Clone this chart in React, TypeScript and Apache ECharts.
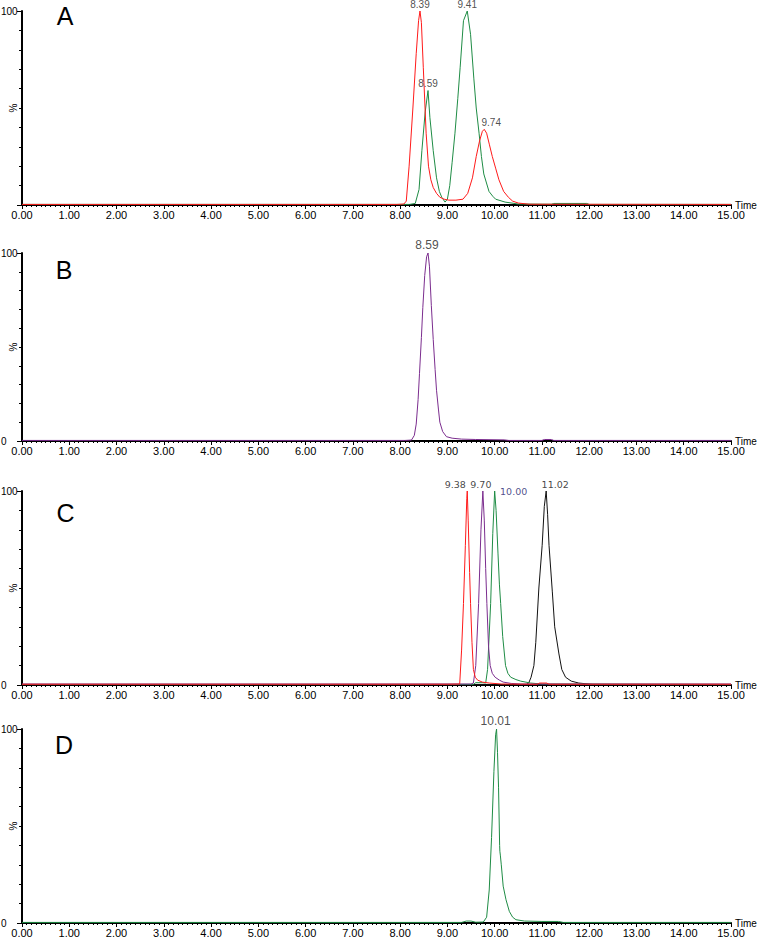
import React, { useEffect, useRef } from "react";
import * as echarts from "echarts";

// ---------- DATA ----------
const panelLetters = ["A", "B", "C", "D"];
const timeRange = [0, 15];
const showZeroLabel = [false, true, true, true];

// Panel A
const redA: number[][] = [
  [0, 0.3], [7.93, 0.3], [8.08, 0.5], [8.13, 2], [8.19, 20], [8.27, 50], [8.34, 78], [8.39, 95], [8.42, 100],
  [8.45, 94], [8.49, 71], [8.55, 37], [8.6, 20], [8.65, 13], [8.7, 9], [8.77, 6], [8.84, 4], [8.93, 3],
  [9.03, 2.5], [9.18, 2.5], [9.33, 3], [9.43, 6], [9.53, 14], [9.61, 25], [9.68, 33], [9.74, 38], [9.78, 39],
  [9.83, 37], [9.89, 31], [9.95, 25], [10.02, 19], [10.09, 13], [10.19, 7], [10.29, 4], [10.38, 2],
  [10.5, 1], [10.73, 0.4], [15, 0.3],
];
const greenA: number[][] = [
  [0, 0.3], [8.2, 0.3], [8.32, 0.8], [8.4, 8], [8.46, 28], [8.53, 48], [8.59, 59], [8.63, 45], [8.7, 28],
  [8.77, 14], [8.83, 7], [8.88, 4], [8.95, 1.5], [9.0, 3], [9.05, 10], [9.1, 22], [9.16, 37], [9.22, 55],
  [9.27, 71], [9.34, 95], [9.42, 100], [9.49, 88], [9.56, 65], [9.61, 50], [9.67, 37], [9.72, 25],
  [9.77, 16], [9.88, 7], [9.96, 4.5], [10.02, 3], [10.22, 1.5], [10.5, 0.5], [11.2, 0.4], [11.25, 0.8],
  [11.95, 0.8], [12.0, 0.3], [15, 0.3],
];
const labelsA = [
  { t: 8.42, v: 100, text: "8.39" },
  { t: 8.59, v: 59, text: "8.59" },
  { t: 9.42, v: 100, text: "9.41" },
  { t: 9.78, v: 39, text: "9.74" },
];

// Panel B
const purpleB: number[][] = [
  [0, 0.3], [8.1, 0.3], [8.24, 0.5], [8.3, 3], [8.34, 9], [8.38, 22], [8.41, 36], [8.45, 55], [8.48, 71],
  [8.52, 88], [8.56, 98], [8.59, 100], [8.62, 93], [8.66, 72], [8.7, 54], [8.74, 38], [8.77, 27],
  [8.81, 17], [8.84, 10], [8.9, 5], [8.98, 2.3], [9.1, 1.5], [9.3, 1], [9.6, 0.8], [10.2, 0.6],
  [10.3, 0.3], [11.0, 0.3], [11.05, 0.8], [11.2, 0.8], [11.25, 0.3], [15, 0.3],
];
const labelsB = [{ t: 8.59, v: 100, text: "8.59" }];

// Panel C
const blackC: number[][] = [
  [0, 0.2], [10.67, 0.3], [10.72, 1], [10.77, 4], [10.83, 10], [10.87, 22], [10.935, 50], [11.005, 72],
  [11.05, 92], [11.09, 100], [11.12, 88], [11.15, 72], [11.22, 48], [11.27, 30], [11.36, 16], [11.42, 8],
  [11.5, 4], [11.62, 2], [11.78, 1], [12.07, 0.3], [15, 0.2],
];
const greenC: number[][] = [
  [0, 0.3], [9.55, 0.3], [9.6, 1.2], [9.75, 1.2], [9.81, 1], [9.85, 8], [9.915, 42], [9.96, 78],
  [10.0, 100], [10.03, 90], [10.07, 68], [10.1, 52], [10.127, 42], [10.17, 25], [10.23, 10], [10.28, 6],
  [10.34, 4], [10.45, 2.8], [10.55, 2], [10.76, 1], [11.0, 0.5], [15, 0.3],
];
const purpleC: number[][] = [
  [0, 0.5], [9.5, 0.5], [9.55, 1], [9.6, 10], [9.66, 42], [9.71, 80], [9.75, 100], [9.78, 85],
  [9.81, 60], [9.835, 42], [9.87, 20], [9.905, 10], [9.95, 6], [10.01, 4], [10.1, 2.5], [10.18, 1.5],
  [10.35, 0.8], [10.55, 0.5], [15, 0.5],
];
const redC: number[][] = [
  [0, 0.4], [9.0, 0.4], [9.26, 0.5], [9.3, 18], [9.34, 42], [9.38, 72], [9.41, 96], [9.42, 100],
  [9.44, 85], [9.47, 58], [9.49, 42], [9.52, 22], [9.55, 8], [9.59, 4], [9.64, 2.5], [9.74, 1.5],
  [9.89, 1], [10.14, 0.5], [10.9, 0.4], [10.95, 1], [11.1, 1], [11.15, 0.4], [15, 0.4],
];
const labelsC = [
  { t: 9.42, v: 100, text: "9.38" },
  { t: 9.75, v: 100, text: "9.70" },
  { t: 10.0, v: 100, text: "10.00" },
  { t: 11.09, v: 100, text: "11.02" },
];

// Panel D
const greenD: number[][] = [
  [0, 0.3], [9.3, 0.3], [9.4, 1], [9.5, 1], [9.6, 0.4], [9.76, 0.5], [9.83, 3], [9.885, 17], [9.934, 44],
  [9.984, 78], [10.02, 97], [10.04, 100], [10.06, 88], [10.082, 70], [10.105, 40], [10.11, 37],
  [10.12, 35], [10.14, 30], [10.18, 19], [10.24, 12], [10.31, 6], [10.38, 3], [10.45, 1.7], [10.63, 1],
  [11.0, 0.8], [11.35, 0.8], [11.45, 0.3], [15, 0.3],
];
const labelsD = [{ t: 10.04, v: 100, text: "10.01" }];

// ---------- STYLE / LAYOUT ----------
const RED = "#ff1a1a";
const GREEN = "#1f8c45";
const PURPLE = "#7b2d8e";
const BLACK = "#111111";

const grids = [
  { left: 22, top: 11, width: 709, height: 194 },
  { left: 22, top: 253, width: 709, height: 188 },
  { left: 22, top: 491, width: 709, height: 194 },
  { left: 22, top: 729, width: 709, height: 194 },
];
const letterPos = [
  [65, 15.5],
  [64, 269.5],
  [65.5, 513],
  [64, 744.5],
];

const labelStyleA = { fontSize: 10, fontFamily: "Liberation Sans", color: "#222" };
const labelStyleB = { fontSize: 12, fontFamily: "Liberation Sans", color: "#222" };
const labelStyleD = { fontSize: 12, fontFamily: "Liberation Sans", color: "#222" };
const labelStylesC = [
  { fontSize: 9.5, fontFamily: "DejaVu Sans", color: "#111" },
  { fontSize: 9.5, fontFamily: "DejaVu Sans", color: "#111" },
  { fontSize: 9.5, fontFamily: "DejaVu Sans", color: "#1c1c6e" },
  { fontSize: 9.5, fontFamily: "DejaVu Sans", color: "#111" },
];
const offsetsA = [[0, 0], [0, 0], [0, 0], [7, 0]];
const offsetsB = [[-1, 0]];
const offsetsC = [[-12, 0], [-2, 0], [19, 7], [9, 0]];
const offsetsD = [[-1, 0]];

function lineSeries(data: number[][], color: string, idx: number) {
  return {
    type: "line",
    xAxisIndex: idx,
    yAxisIndex: idx,
    data,
    showSymbol: false,
    symbol: "none",
    lineStyle: { color, width: 1 },
    silent: true,
    z: 3,
  };
}

function labelSeries(
  labels: { t: number; v: number; text: string }[],
  offsets: number[][],
  style: any,
  idx: number
) {
  return {
    type: "scatter",
    xAxisIndex: idx,
    yAxisIndex: idx,
    symbolSize: 0,
    silent: true,
    z: 5,
    data: labels.map((l, i) => ({
      value: [l.t, l.v],
      label: {
        show: true,
        position: "top",
        distance: 2,
        formatter: l.text,
        offset: offsets[i] || [0, 0],
        ...(Array.isArray(style) ? style[i] : style),
      },
    })),
  };
}

export default function App() {
  const ref = useRef<HTMLDivElement>(null);
  useEffect(() => {
    if (!ref.current) return;
    const chart = echarts.init(ref.current, undefined, { renderer: "svg" });
    const axisFont = { fontFamily: "Liberation Sans", color: "#000" };
    const xAxes = grids.map((_, i) => ({
      type: "value",
      gridIndex: i,
      min: timeRange[0],
      max: timeRange[1],
      interval: 1,
      axisLine: { show: true, lineStyle: { color: "#000", width: 2 } },
      axisTick: { show: true, length: 4, lineStyle: { color: "#000", width: 1 } },
      minorTick: { show: true, splitNumber: 10, length: 2, lineStyle: { color: "#000", width: 1 } },
      splitLine: { show: false },
      axisLabel: {
        ...axisFont,
        fontSize: 11,
        margin: 4,
        hideOverlap: false,
        formatter: (v: number) => v.toFixed(2),
      },
      name: "Time",
      nameLocation: "end",
      nameGap: 4,
      nameMoveOverlap: false,
      nameTextStyle: { ...axisFont, fontSize: 10, verticalAlign: "middle", padding: [0, 0, 5, 0] },
    }));
    const yAxes = grids.map((_, i) => ({
      type: "value",
      gridIndex: i,
      min: 0,
      max: 100,
      interval: 100,
      axisLine: { show: true, lineStyle: { color: "#000", width: 2 } },
      axisTick: { show: true, length: 5, lineStyle: { color: "#000", width: 1 } },
      minorTick: { show: true, splitNumber: 10, length: 3, lineStyle: { color: "#000", width: 1 } },
      splitLine: { show: false },
      axisLabel: {
        ...axisFont,
        fontSize: 10,
        margin: 21,
        align: "left",
        hideOverlap: false,
        formatter: (v: number) => (v === 0 && !showZeroLabel[i] ? "" : String(v)),
      },
      name: "%",
      nameLocation: "middle",
      nameGap: 4,
      nameRotate: 90,
      nameMoveOverlap: false,
      nameTextStyle: { ...axisFont, fontSize: 10 },
    }));
    const series: any[] = [
      lineSeries(greenA, GREEN, 0),
      lineSeries(redA, RED, 0),
      labelSeries(labelsA, offsetsA, labelStyleA, 0),
      lineSeries(purpleB, PURPLE, 1),
      labelSeries(labelsB, offsetsB, labelStyleB, 1),
      lineSeries(blackC, BLACK, 2),
      lineSeries(greenC, GREEN, 2),
      lineSeries(purpleC, PURPLE, 2),
      lineSeries(redC, RED, 2),
      labelSeries(labelsC, offsetsC, labelStylesC, 2),
      lineSeries(greenD, GREEN, 3),
      labelSeries(labelsD, offsetsD, labelStyleD, 3),
    ];
    const graphic = panelLetters.map((letter, i) => ({
      type: "text",
      x: letterPos[i][0],
      y: letterPos[i][1],
      style: {
        text: letter,
        fontSize: 25,
        fontFamily: "Liberation Sans",
        fill: "#000",
        align: "center",
        verticalAlign: "middle",
      },
    }));
    chart.setOption({
      animation: false,
      backgroundColor: "#ffffff",
      grid: grids.map((g) => ({ ...g, containLabel: false, outerBoundsMode: "none" })),
      xAxis: xAxes,
      yAxis: yAxes,
      series,
      graphic,
    });
    return () => chart.dispose();
  }, []);
  return (
    <div
      ref={ref}
      style={{ position: "absolute", left: 0, top: 0, width: 760, height: 941, background: "#fff" }}
    />
  );
}
